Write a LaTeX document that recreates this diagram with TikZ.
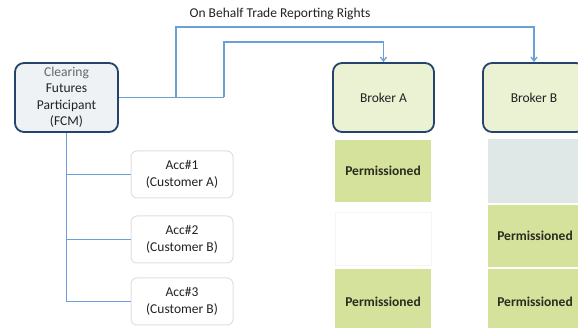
\documentclass[tikz,border=0pt]{standalone}
\usepackage{fontspec}
\setmainfont{Carlito}
\usetikzlibrary{arrows.meta}
\definecolor{navy}{HTML}{24446E}
\definecolor{fcmfill}{HTML}{EEF2F4}
\definecolor{brfill}{HTML}{EBF1D3}
\definecolor{conn}{HTML}{6A9FD8}
\definecolor{perm}{HTML}{D5E29C}
\definecolor{greycell}{HTML}{DFE7E7}
\definecolor{txt}{HTML}{222222}
\begin{document}
\begin{tikzpicture}[x=1pt,y=-1pt,
  font=\fontsize{13.5}{16.5}\selectfont,
  mainbox/.style={draw=navy,line width=1.8pt,rounded corners=9pt,align=center,text=txt,inner sep=0pt},
  accbox/.style={draw=black!12,line width=1pt,rounded corners=6pt,fill=white,align=center,text=txt,
    minimum width=102pt,minimum height=47pt,inner sep=0pt},
  cell/.style={inner sep=0pt,text=txt!90!olive,font=\fontsize{13.5}{16.5}\selectfont\bfseries},
  link/.style={draw=conn,line width=1.3pt},
  arr/.style={link,-{Straight Barb[length=4pt,width=6pt]}}]
\clip (0,0) rectangle (578,328);
\useasboundingbox (0,0) rectangle (578,328);
% title
\node[text=txt] (title) at (280,14) {On Behalf Trade Reporting Rights};
% main boxes
\node[mainbox,fill=fcmfill,minimum width=103pt,minimum height=69pt] (fcm) at (66.5,97.5)
  {\textcolor{black!60}{Clearing}\\Futures\\Participant\\(FCM)};
\node[mainbox,fill=brfill,minimum width=101pt,minimum height=69pt] (brA) at (383.5,97.5) {Broker A};
\node[mainbox,fill=brfill,minimum width=102pt,minimum height=69pt] (brB) at (534,97.5) {Broker B};
% accounts
\node[accbox] (acc1) at (182,174.5) {Acc\#1\\(Customer A)};
\node[accbox] (acc2) at (182,239.5) {Acc\#2\\(Customer B)};
\node[accbox] (acc3) at (182,301.5) {Acc\#3\\(Customer B)};
% permission cells
\node[cell,fill=perm,minimum width=96pt,minimum height=62pt] (a1) at (383,171) {Permissioned};
\node[cell,fill=white,draw=black!4,minimum width=96pt,minimum height=53pt] (a2) at (383,238.5) {};
\node[cell,fill=perm,minimum width=96pt,minimum height=66pt] (a3) at (383,302) {Permissioned};
\node[cell,fill=greycell,minimum width=94pt,minimum height=64pt] (b1) at (535,171) {};
\node[cell,fill=perm,minimum width=94pt,minimum height=62pt] (b2) at (535,236) {Permissioned};
\node[cell,fill=perm,minimum width=94pt,minimum height=66pt] (b3) at (535,302) {Permissioned};
% connectors
\coordinate (j1) at (176,97.5);
\coordinate (j2) at (224,97.5);
\coordinate (top1) at (0,27);
\coordinate (top2) at (0,42);
\draw[link] (fcm.east) -- (j2);
\draw[arr] (j1) -- (j1 |- top1) -- (brB.north |- top1) -- (brB.north);
\draw[arr] (j2) -- (j2 |- top2) -- (brA.north |- top2) -- (brA.north);
\draw[link] (fcm.south) -- (fcm.south |- acc3.west) -- (acc3.west);
\draw[link] (fcm.south |- acc1.west) -- (acc1.west);
\draw[link] (fcm.south |- acc2.west) -- (acc2.west);
\end{tikzpicture}
\end{document}
